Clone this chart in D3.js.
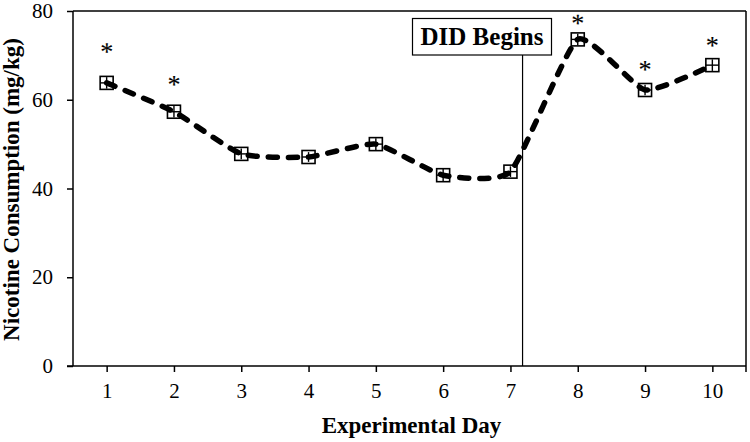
<!DOCTYPE html>
<html><head><meta charset="utf-8">
<script src="https://cdn.jsdelivr.net/npm/d3@7"></script>
<style>
html,body{margin:0;padding:0;background:#fff;}
svg{display:block;}
</style></head>
<body>
<script>
const days = [1,2,3,4,5,6,7,8,9,10];
const consumption = [63.8,57.3,47.8,47.1,50.0,43.0,43.8,73.6,62.2,67.8];
const sem = [1.3,1.3,1.2,1.1,1.3,1.4,1.2,1.3,1.2,1.3];
const starDays = [1,2,8,9,10];
const starLevels = [71.6,64.2,78.0,67.6,73.0];
const yTicks = [0,20,40,60,80];
const didDay = 7.18;
const didLabel = "DID Begins";
const xTitle = "Experimental Day";
const yTitle = "Nicotine Consumption (mg/kg)";

const W = 750, H = 442;
const L = 73, R = 746, T = 11, B = 366;
const svg = d3.select("body").append("svg").attr("width", W).attr("height", H);
const x = d3.scaleLinear().domain([0.5,10.5]).range([L,R]);
const y = d3.scaleLinear().domain([0,80]).range([B,T]);
const serif = "'Liberation Serif','Times New Roman',serif";

// frame top & right
svg.append("line").attr("x1",L).attr("x2",R).attr("y1",T).attr("y2",T).attr("stroke","#000").attr("stroke-width",1.5);
svg.append("line").attr("x1",R).attr("x2",R).attr("y1",T).attr("y2",B+6).attr("stroke","#000").attr("stroke-width",1.5);

// axes
const xAxis = d3.axisBottom(x).tickValues(days).tickSize(6).tickPadding(11).tickFormat(d3.format("d"));
const gx = svg.append("g").attr("transform",`translate(0,${B})`).call(xAxis);
const yAxis = d3.axisLeft(y).tickValues(yTicks).tickSize(6).tickPadding(14);
const gy = svg.append("g").attr("transform",`translate(${L},0)`).call(yAxis);
[gx,gy].forEach(g=>{
  g.select(".domain").remove();
  g.selectAll(".tick line").attr("stroke","#000").attr("stroke-width",1.5);
  g.selectAll(".tick text").attr("font-family",serif).attr("font-size",21).attr("fill","#000");
});
gx.selectAll(".tick text").attr("dy","0.71em");
svg.append("line").attr("x1",L-6).attr("x2",R).attr("y1",B).attr("y2",B).attr("stroke","#000").attr("stroke-width",1.5);
svg.append("line").attr("x1",L).attr("x2",L).attr("y1",T).attr("y2",B).attr("stroke","#000").attr("stroke-width",1.5);

// DID line and label
svg.append("line").attr("x1",x(didDay)).attr("x2",x(didDay)).attr("y1",55).attr("y2",B).attr("stroke","#000").attr("stroke-width",1.2);
const lab = svg.append("g");
lab.append("rect").attr("x",412.5).attr("y",18.5).attr("width",139).attr("height",36.5).attr("fill","#fff").attr("stroke","#000").attr("stroke-width",1.2);
lab.append("text").attr("x",482).attr("y",45).attr("text-anchor","middle").attr("font-family",serif).attr("font-weight","bold").attr("font-size",25).text(didLabel);

// markers with error bars
const pts = days.map((d,i)=>({d, v:consumption[i], e:sem[i]}));
const s = 6.5;
const mk = svg.append("g").selectAll("g").data(pts).join("g");
mk.append("rect").attr("x",p=>x(p.d)-s).attr("y",p=>y(p.v)-s).attr("width",2*s).attr("height",2*s)
  .attr("fill","#fff").attr("stroke","#000").attr("stroke-width",1.6);
mk.append("line").attr("x1",p=>x(p.d)).attr("x2",p=>x(p.d)).attr("y1",p=>y(p.v-p.e)).attr("y2",p=>y(p.v+p.e)).attr("stroke","#000").attr("stroke-width",1.4);
mk.append("line").attr("x1",p=>x(p.d)-s).attr("x2",p=>x(p.d)+s).attr("y1",p=>y(p.v)).attr("y2",p=>y(p.v)).attr("stroke","#000").attr("stroke-width",1.4);

// dashed smoothed line
const line = d3.line().x(p=>x(p.d)).y(p=>y(p.v)).curve(d3.curveCardinal.tension(0.5));
svg.append("path").datum(pts).attr("d",line).attr("fill","none").attr("stroke","#000")
  .attr("stroke-width",5.5).attr("stroke-dasharray","9,11").attr("stroke-linecap","round");

// significance stars
svg.append("g").selectAll("text").data(starDays.map((d,i)=>({d,v:starLevels[i]}))).join("text")
  .attr("transform",p=>`translate(${x(p.d)},${y(p.v)+12}) rotate(0.3)`).attr("text-anchor","middle")
  .attr("font-family",serif).attr("font-size",26).attr("fill","#000")
  .attr("stroke","#000").attr("stroke-width",0.15).text("*");

// titles
svg.append("text").attr("x",(L+R)/2+2).attr("y",433).attr("text-anchor","middle").attr("font-family",serif)
  .attr("font-weight","bold").attr("font-size",23).text(xTitle);
svg.append("text").attr("transform",`translate(19,${(T+B)/2+1}) rotate(-90)`).attr("text-anchor","middle").attr("font-family",serif)
  .attr("font-weight","bold").attr("font-size",23).text(yTitle);
</script>
</body></html>
